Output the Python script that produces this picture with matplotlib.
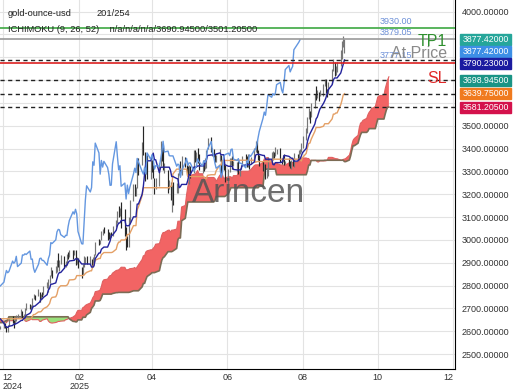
import numpy as np
import pandas as pd
import matplotlib
matplotlib.use("Agg")
import matplotlib.pyplot as plt
import matplotlib.dates as mdates
from matplotlib.patches import Rectangle

plt.rcParams['font.family'] = ['Liberation Sans', 'DejaVu Sans']

# daily bars, oldest first (Sep..Dec history, then the 201 shown bars)
hi = [2503, 2503, 2523, 2529, 2507, 2518, 2529, 2560, 2586, 2589, 2590, 2600, 2596, 2625, 2632, 2665, 2670, 2685, 2674, 2665,
      2673, 2666, 2668, 2672, 2654, 2643, 2628, 2636, 2661, 2657, 2665, 2679, 2696, 2722, 2740, 2749, 2758, 2738, 2750, 2748, 2775, 2790, 2790,
      2772, 2750, 2750, 2746, 2710, 2709, 2686, 2627, 2618, 2582, 2578, 2614, 2639, 2656, 2674, 2716, 2722, 2640, 2650, 2648, 2670,
      2652, 2650, 2657, 2654, 2645, 2668, 2697, 2722, 2726, 2686, 2664, 2654, 2650, 2611, 2632,
      2625, 2621, 2639, 2636, 2624, 2627,
      2660, 2665, 2649, 2656, 2670, 2675, 2697, 2690, 2677, 2700, 2725, 2718, 2714, 2746, 2763, 2758, 2786, 2772, 2765, 2770, 2800, 2817,
      2830, 2845, 2882, 2870, 2887, 2911, 2942, 2910, 2935, 2930, 2907, 2938, 2947, 2955, 2954, 2957, 2956, 2927, 2920, 2883,
      2895, 2930, 2927, 2930, 2930, 2915, 2925, 2940, 2990, 3005, 3001, 3038, 3048, 3057, 3048, 3034, 3029, 3033, 3060, 3086, 3128,
      3149, 3140, 3167, 3136, 3055, 3016, 3099, 3176, 3245, 3245, 3230, 3357, 3357, 3430, 3500, 3386, 3368, 3370, 3350, 3350, 3328,
      3270, 3270, 3335, 3435, 3418, 3415, 3337, 3305, 3262, 3253, 3240, 3253, 3250, 3295, 3320, 3345, 3366, 3365, 3345, 3325, 3330, 3325,
      3393, 3392, 3385, 3403, 3376, 3347, 3350, 3358, 3396, 3446, 3451, 3404, 3397, 3376, 3370, 3398, 3370, 3347, 3350, 3328, 3310,
      3358, 3358, 3366, 3345, 3342, 3345, 3317, 3330, 3369, 3375, 3366, 3377, 3352, 3361, 3402, 3433, 3439, 3393, 3373, 3345, 3334, 3334, 3315,
      3363, 3385, 3390, 3385, 3409, 3400, 3404, 3358, 3374, 3376, 3345, 3358, 3345, 3350, 3350, 3379, 3376, 3393, 3398, 3423, 3453,
      3490, 3540, 3578, 3563, 3600, 3640, 3674, 3658, 3648, 3655, 3685, 3707, 3707, 3660, 3690, 3749, 3791, 3779, 3761, 3781, 3834, 3872,
      3895, 3880]
lo = [2472, 2484, 2491, 2485, 2485, 2500, 2500, 2511, 2553, 2574, 2560, 2546, 2547, 2585, 2613, 2625, 2650, 2653, 2645, 2625,
      2624, 2642, 2643, 2640, 2633, 2605, 2604, 2603, 2628, 2637, 2640, 2656, 2668, 2692, 2710, 2716, 2708, 2714, 2728, 2731, 2736, 2769, 2730,
      2735, 2730, 2728, 2652, 2643, 2677, 2610, 2590, 2572, 2536, 2557, 2565, 2608, 2625, 2642, 2668, 2604, 2605, 2619, 2620, 2635,
      2622, 2626, 2633, 2625, 2614, 2632, 2658, 2693, 2679, 2645, 2643, 2633, 2583, 2583, 2585,
      2603, 2609, 2613, 2614, 2597, 2598,
      2624, 2637, 2614, 2631, 2645, 2656, 2659, 2656, 2660, 2670, 2694, 2696, 2696, 2703, 2741, 2736, 2752, 2730, 2736, 2749, 2758, 2790,
      2772, 2810, 2840, 2834, 2853, 2860, 2880, 2864, 2894, 2877, 2881, 2895, 2918, 2925, 2918, 2932, 2890, 2896, 2875, 2832,
      2845, 2880, 2894, 2894, 2896, 2880, 2880, 2906, 2932, 2979, 2982, 2998, 3020, 3028, 2999, 3002, 3006, 3012, 3015, 3055, 3076,
      3099, 3105, 3054, 3015, 2957, 2970, 2970, 3078, 3172, 3194, 3193, 3228, 3283, 3330, 3370, 3260, 3287, 3265, 3268, 3298, 3269,
      3202, 3222, 3237, 3324, 3345, 3305, 3295, 3207, 3223, 3173, 3120, 3155, 3206, 3205, 3286, 3278, 3286, 3321, 3285, 3285, 3245, 3271,
      3291, 3343, 3347, 3339, 3306, 3293, 3302, 3311, 3317, 3399, 3383, 3368, 3363, 3340, 3340, 3346, 3295, 3311, 3306, 3255, 3247,
      3297, 3328, 3311, 3322, 3296, 3287, 3282, 3310, 3322, 3341, 3320, 3320, 3310, 3332, 3340, 3383, 3381, 3351, 3324, 3301, 3307, 3268, 3270,
      3281, 3346, 3352, 3357, 3369, 3375, 3343, 3331, 3340, 3330, 3334, 3323, 3314, 3311, 3324, 3321, 3351, 3351, 3375, 3386, 3402,
      3436, 3470, 3528, 3511, 3538, 3577, 3612, 3620, 3610, 3631, 3631, 3675, 3645, 3628, 3640, 3682, 3738, 3717, 3722, 3736, 3760, 3794,
      3845, 3820]
cl = [2493, 2495, 2517, 2497, 2506, 2516, 2512, 2558, 2578, 2582, 2569, 2559, 2587, 2622, 2629, 2657, 2657, 2672, 2658, 2634,
      2663, 2659, 2656, 2653, 2643, 2622, 2608, 2631, 2657, 2649, 2662, 2674, 2692, 2721, 2720, 2748, 2715, 2736, 2747, 2742, 2774, 2788, 2744,
      2736, 2736, 2742, 2659, 2706, 2684, 2619, 2598, 2573, 2565, 2563, 2611, 2631, 2651, 2669, 2715, 2625, 2632, 2637, 2639, 2650,
      2640, 2643, 2650, 2632, 2633, 2661, 2694, 2718, 2681, 2648, 2652, 2646, 2587, 2594, 2622,
      2612, 2618, 2634, 2621, 2606, 2624,
      2658, 2639, 2636, 2649, 2662, 2670, 2690, 2663, 2677, 2696, 2715, 2703, 2708, 2743, 2756, 2754, 2770, 2740, 2763, 2760, 2795, 2798,
      2815, 2842, 2866, 2856, 2861, 2907, 2898, 2904, 2928, 2883, 2898, 2934, 2933, 2939, 2936, 2951, 2915, 2916, 2876, 2858,
      2893, 2918, 2920, 2910, 2910, 2889, 2918, 2934, 2988, 2984, 3000, 3035, 3046, 3044, 3023, 3011, 3020, 3019, 3058, 3085, 3123,
      3113, 3134, 3114, 3037, 2983, 2982, 3082, 3175, 3237, 3210, 3229, 3342, 3327, 3424, 3381, 3288, 3348, 3319, 3344, 3317, 3288,
      3239, 3240, 3333, 3430, 3364, 3307, 3325, 3235, 3249, 3179, 3240, 3203, 3230, 3289, 3314, 3295, 3357, 3342, 3300, 3288, 3317, 3289,
      3381, 3353, 3373, 3352, 3310, 3325, 3323, 3354, 3386, 3432, 3385, 3389, 3369, 3368, 3368, 3368, 3323, 3332, 3328, 3274, 3303,
      3338, 3357, 3326, 3337, 3337, 3301, 3313, 3324, 3355, 3343, 3324, 3347, 3339, 3350, 3397, 3431, 3387, 3368, 3336, 3314, 3326, 3274, 3289,
      3363, 3373, 3380, 3369, 3396, 3398, 3354, 3348, 3356, 3336, 3336, 3332, 3316, 3347, 3338, 3372, 3366, 3393, 3397, 3417, 3448,
      3476, 3533, 3560, 3546, 3587, 3636, 3625, 3641, 3634, 3643, 3680, 3690, 3659, 3644, 3685, 3746, 3764, 3736, 3749, 3760, 3833, 3858,
      3866, 3877]

last_bar = "2025-09-04"
periods = (9, 26, 52)

tp1 = 3930.00
at_price = 3879.05
stop_loss = 3777.15
dashed_levels = [3790.23, 3698.945, 3639.75, 3581.205]

side_values = [3877.42, 3877.42, 3790.23, 3698.945, 3639.75, 3581.205]
side_colors = ["#26a69a", "#3d8fe6", "#1b1ba0", "#1a9485", "#f07a1e", "#d4124c"]

tick_dates = ["2024-12-01", "2025-02-01", "2025-04-01", "2025-06-01", "2025-08-01", "2025-10-01", "2025-12-01"]
tick_labels = ["12\n2024", "02\n2025", "04", "06", "08", "10", "12"]

# ---- ichimoku ----
df = pd.DataFrame({"hi": hi, "lo": lo, "cl": cl})
n = len(df)
t, k, s = periods
dates = pd.bdate_range(end=last_bar, periods=n)
future = pd.bdate_range(start=dates[-1], periods=k + 1)[1:]
all_dates = dates.append(future)
xd = mdates.date2num(dates)
xall = mdates.date2num(all_dates)

tenkan = (df.hi.rolling(t).max() + df.lo.rolling(t).min()) / 2
kijun = (df.hi.rolling(k).max() + df.lo.rolling(k).min()) / 2
span_a = ((tenkan + kijun) / 2).values
span_b = ((df.hi.rolling(s).max() + df.lo.rolling(s).min()) / 2).values
xspan = xall[k:k + n]

fig = plt.figure(figsize=(5.2, 3.9), dpi=100)
ax = fig.add_axes([0, 1 - 369.3 / 390, 455 / 520, 369.3 / 390])

ax.set_xlim(mdates.date2num(pd.Timestamp("2024-12-01")) - 2.2,
            mdates.date2num(pd.Timestamp("2025-12-01")) + 1.6)
ax.set_ylim(2433, 4051)

ax.grid(True, color="#e3e3e3", lw=0.8, zorder=0)
ax.set_axisbelow(True)

# cloud
ok = ~np.isnan(span_a) & ~np.isnan(span_b)
ax.fill_between(xspan, span_a, span_b, where=ok & (span_a >= span_b), interpolate=True,
                color="#f26464", lw=0, zorder=1)
ax.fill_between(xspan, span_a, span_b, where=ok & (span_a < span_b), interpolate=True,
                color="#98e07a", lw=0, zorder=1)
ax.plot(xspan, span_a, color="#e06060", lw=0.8, zorder=2)
ax.plot(xspan, span_b, color="#7c6c55", lw=1.2, zorder=2)

# bars
prev = np.r_[cl[0], cl[:-1]]
bar_cols = np.where(np.array(cl) >= prev, "#777777", "#262626")
ax.vlines(xd, lo, hi, colors=bar_cols, lw=0.85, zorder=3)

# lines
ax.plot(xd, kijun, color="#e4a066", lw=1.0, zorder=4)
ax.plot(xd, tenkan, color="#23239c", lw=1.0, zorder=4)
ax.plot(xd[:-k], cl[k:], color="#6497e0", lw=1.0, zorder=4)

# levels
ax.axhline(tp1, color="#4caf50", lw=1.3, zorder=5)
ax.axhline(at_price, color="#9a9a9a", lw=1.2, zorder=5)
ax.axhline(stop_loss, color="#dc2020", lw=1.2, zorder=5)
for lv in dashed_levels:
    ax.axhline(lv, color="#222222", lw=1.0, ls=(0, (3, 2.5)), zorder=5)

ytr = ax.get_yaxis_transform()
for lv in [tp1, at_price, stop_loss]:
    ax.annotate("%.2f" % lv, xy=(0.835, lv), xycoords=ytr, xytext=(0, 1.5),
                textcoords="offset points", ha="left", va="bottom",
                fontsize=6.5, color="#6d90d8", zorder=6)
for txt, lv, dy, col in [("TP1", tp1, -9.8, "#2f8f2f"), ("At Price", at_price, -10.0, "#8a8a8a"),
                         ("SL", stop_loss, -11.2, "#e02828")]:
    ax.annotate(txt, xy=(0.983, lv), xycoords=ytr, xytext=(0, dy),
                textcoords="offset points", ha="right", va="center",
                fontsize=11.5, color=col, zorder=6)

# axes styling
for sp in ["top", "left"]:
    ax.spines[sp].set_visible(False)
ax.spines["right"].set_color("black")
ax.spines["bottom"].set_color("black")
ax.yaxis.tick_right()

# price boxes on the right, stacked so they do not overlap
H = 390
box_h = 12.0
ys = []
for v in side_values:
    yc = H - ax.transData.transform((xd[-1], v))[1]
    if ys and yc < ys[-1] + box_h:
        yc = ys[-1] + box_h
    ys.append(yc)
for v, c, yc in zip(side_values, side_colors, ys):
    fig.add_artist(Rectangle((460 / 520, (H - yc - box_h / 2 + 0.5) / H), 51 / 520, (box_h - 1) / H,
                             transform=fig.transFigure, color=c, zorder=10))
    fig.text(485.5 / 520, (H - yc) / H, "%.5f" % v, ha="center", va="center",
             fontsize=6.3, color="white", zorder=11)

# y tick labels, leaving out the ones hidden under the boxes
yt = np.arange(2500, 4001, 100)
box_top = ys[0] - box_h / 2 - 3
box_bot = ys[-1] + box_h / 2 + 3
ylabs = []
for v in yt:
    yp = H - ax.transData.transform((xd[-1], v))[1]
    ylabs.append("" if box_top < yp < box_bot else "%.5f" % v)
ax.set_yticks(yt)
ax.set_yticklabels(ylabs)
ax.tick_params(axis="y", length=0, pad=5, labelsize=6.5, labelcolor="#333333")
for lab in ax.get_yticklabels():
    lab.set_horizontalalignment("left")

ax.set_xticks(mdates.date2num(pd.to_datetime(tick_dates)))
ax.set_xticklabels(tick_labels)
ax.tick_params(axis="x", length=0, pad=3, labelsize=6.5, labelcolor="#333333")
xl = ax.get_xticklabels()
xl[0].set_horizontalalignment("left")
xl[-1].set_horizontalalignment("right")
for lab in xl:
    lab.set_linespacing(0.95)

# headers and watermark
fig.text(8 / 520, 1 - 13 / 390, "gold-ounce-usd", fontsize=6.7, color="#222222", va="center")
fig.text(97 / 520, 1 - 13 / 390, "201/254", fontsize=6.7, color="#222222", va="center")
fig.text(8 / 520, 1 - 29 / 390, "ICHIMOKU (9, 26, 52)    n/a/n/a/n/a/3690.94500/3501.20500",
         fontsize=6.7, color="#222222", va="center")
fig.text(248 / 520, 1 - 193 / 390, "Arincen", fontsize=24, color="#555555", alpha=0.85,
         ha="center", va="center")

fig.savefig("out.png", dpi=100)
